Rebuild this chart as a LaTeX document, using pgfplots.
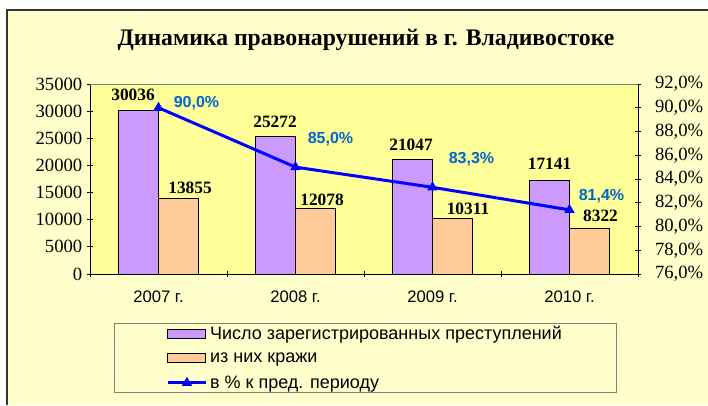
\documentclass[border=0pt]{standalone}
\usepackage{fontspec}
\setmainfont{Liberation Serif}
\newfontfamily\arial{Liberation Sans}
\usepackage{pgfplots}
\pgfplotsset{compat=1.18}
\usepackage{pgfplotstable}

\definecolor{outerbg}{HTML}{FFFFCC}
\definecolor{plotbg}{HTML}{FFFF99}
\definecolor{barA}{HTML}{CC99FF}
\definecolor{barB}{HTML}{FFCC99}
\definecolor{pctline}{HTML}{0000FF}
\definecolor{pcttext}{HTML}{0066CC}
\definecolor{frame}{HTML}{333333}

% label offsets from the category centre, in px of the reference
\pgfplotstableread{
x y dx dy
0 30036 -25.5 16
1 25272 -20.5 15
2 21047 -21.5 15
3 17141 -20 17
}\crimes
\pgfplotstableread{
x y dx dy
0 13855 31.5 11
1 12078 26.5 9
2 10311 35.5 9
3 8322 31 13
}\thefts
\pgfplotstableread{
x y lab dx dy
0 90.0 {90,0\%} 38 5
1 85.0 {85,0\%} 35 28
2 83.3 {83,3\%} 39 28
3 81.4 {81,4\%} 32 14
}\pct

\pgfplotsset{
  barlegend/.style={legend image code/.code={
    \draw[##1] (0pt,-3.4pt) rectangle (28.5pt,3.4pt);}},
  linelegend/.style={legend image code/.code={
    \draw[##1] (0pt,0pt) -- (28.5pt,0pt);
    \draw[##1,mark repeat=2,mark phase=2] plot coordinates {(0pt,0pt) (14.25pt,0pt) (28.5pt,0pt)};}},
  common/.style={
    scale only axis, width=411pt, height=142.5pt,
    at={(67.5pt,98.25pt)}, anchor=south west,
    xmin=-0.5, xmax=3.5,
    tick align=center, major tick length=4.5pt,
    axis line style={line width=0.75pt},
    every tick/.style={black, line width=0.75pt},
    tick label style={font=\fontsize{14}{16}\selectfont},
    /pgf/number format/.cd, 1000 sep={}, assume math mode=true,
  },
}

\begin{document}
\begin{tikzpicture}
\begin{scope}[x=0.75pt,y=0.75pt]
  \fill[white] (0,0) rectangle (708,405);
  \fill[outerbg] (7,0) rectangle (708,395);
  \draw[frame, line width=1.5pt] (7,0) -- (7,395) -- (708,395);
  \node[font=\bfseries\fontsize{17.8}{20}\selectfont] at (366,365) {Динамика правонарушений в г. Владивостоке};
\end{scope}

\begin{axis}[common,
  axis x line*=bottom, axis y line*=left,
  axis background/.style={fill=plotbg},
  ymin=0, ymax=35000, ytick distance=5000, scaled y ticks=false,
  xtick={-0.5,0.5,1.5,2.5,3.5}, x tick label as interval,
  xticklabels={2007 г.,2008 г.,2009 г.,2010 г.},
  x tick label style={font=\arial\fontsize{12.5}{14}\selectfont, yshift=-7pt},
  nodes near coords,
  visualization depends on={\thisrow{dx} \as \dx},
  visualization depends on={\thisrow{dy} \as \dy},
  every node near coord/.append style={font=\bfseries\fontsize{13}{15}\selectfont,
    black, anchor=center, xshift={\dx*0.75pt}, yshift={\dy*0.75pt}},
]
\addplot[ybar, bar width=0.29, bar shift=-0.146, fill=barA, draw=black, line width=0.75pt]
  table[x=x, y=y] {\crimes};
\addplot[ybar, bar width=0.29, bar shift=0.146, fill=barB, draw=black, line width=0.75pt]
  table[x=x, y=y] {\thefts};
\end{axis}

\begin{axis}[common,
  axis y line*=right, axis x line*=top,
  x axis line style={draw=gray, line width=0.75pt}, xtick=\empty,
  ymin=76, ymax=92, ytick={76,78,...,92},
  yticklabel={\pgfmathprintnumber[fixed,fixed zerofill,precision=1,use comma]{\tick}\%},
  y tick label style={xshift=7pt},
  legend style={at={(0.5027,-0.442)}, anchor=center, draw=gray, line width=0.75pt,
    fill=outerbg, font=\arial\fontsize{13.5}{15}\selectfont,
    inner xsep=39pt, inner ysep=0pt, row sep=4.5pt},
  legend cell align=left,
]
\addlegendimage{barlegend, fill=barA, draw=black, line width=0.75pt}
\addlegendentry{Число зарегистрированных преступлений}
\addlegendimage{barlegend, fill=barB, draw=black, line width=0.75pt}
\addlegendentry{из них кражи}
\addplot[pctline, line width=2.25pt, mark=triangle*, mark size=4pt,
  mark options={solid, line width=0.5pt}, linelegend,
  nodes near coords, point meta=explicit symbolic,
  visualization depends on={\thisrow{dx} \as \dx},
  visualization depends on={\thisrow{dy} \as \dy},
  every node near coord/.append style={font=\arial\bfseries\fontsize{12}{14}\selectfont,
    pcttext, anchor=center, xshift={\dx*0.75pt}, yshift={\dy*0.75pt}},
] table[x=x, y=y, meta=lab] {\pct};
\addlegendentry{в \% к пред. периоду}
\end{axis}

\pgfresetboundingbox
\useasboundingbox (0,0) rectangle (531pt,303.75pt);
\end{tikzpicture}
\end{document}
